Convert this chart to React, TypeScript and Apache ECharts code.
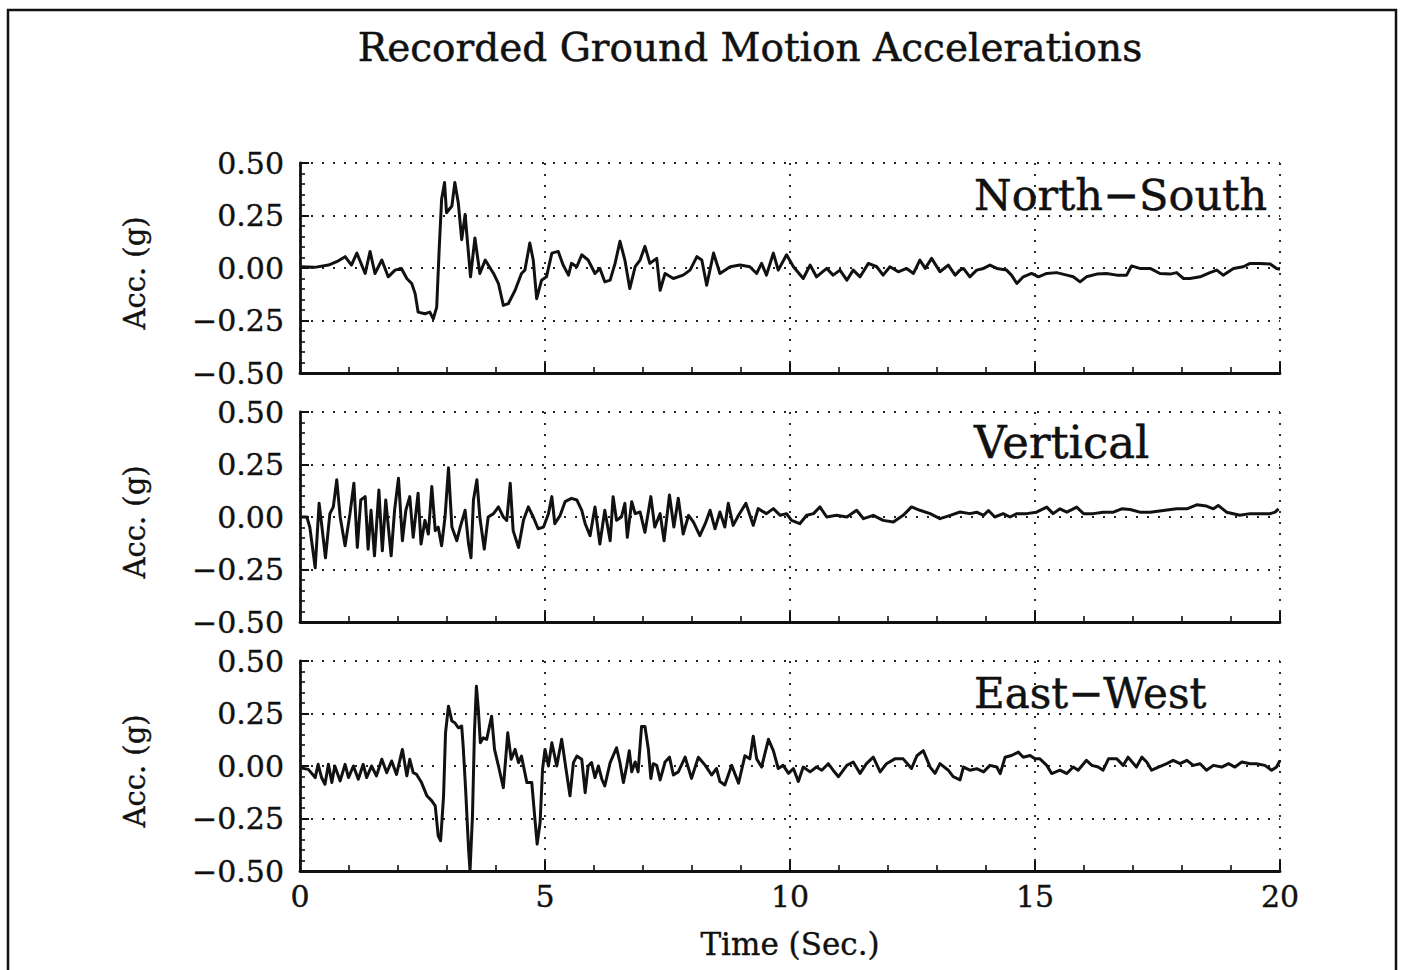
import React, { useEffect, useRef } from "react";
import * as echarts from "echarts";

const chartTitle = "Recorded Ground Motion Accelerations";
const panelNames = ["North\u2212South", "Vertical", "East\u2212West"];
const panelFontSizes = [43, 45, 42];
const yAxisTitle = "Acc. (g)";
const xAxisTitle = "Time (Sec.)";
const yTicks = [-0.5, -0.25, 0, 0.25, 0.5];
const xTicks = [0, 5, 10, 15, 20];

const northSouth: [number, number][] = [
  [0.0, 0.006], [0.3, 0.003], [0.58, 0.014], [0.75, 0.03], [0.92, 0.054], [1.05, 0.014], [1.16, 0.071], [1.33, -0.026],
  [1.43, 0.079], [1.53, -0.026], [1.67, 0.038], [1.8, -0.042], [1.94, -0.01], [2.07, -0.002], [2.18, -0.05], [2.28, -0.074],
  [2.35, -0.122], [2.41, -0.21], [2.55, -0.218], [2.65, -0.21], [2.72, -0.242], [2.79, -0.186], [2.84, 0.087], [2.89, 0.327],
  [2.95, 0.407], [2.99, 0.263], [3.1, 0.295], [3.16, 0.407], [3.23, 0.311], [3.3, 0.135], [3.37, 0.255], [3.42, 0.119],
  [3.48, -0.042], [3.57, 0.143], [3.67, -0.026], [3.78, 0.038], [3.95, -0.026], [4.05, -0.074], [4.15, -0.178], [4.25, -0.17],
  [4.39, -0.106], [4.52, -0.026], [4.59, -0.01], [4.69, 0.119], [4.76, 0.038], [4.83, -0.146], [4.93, -0.058], [5.03, -0.042],
  [5.14, 0.071], [5.27, 0.079], [5.37, 0.014], [5.48, -0.034], [5.54, 0.022], [5.65, 0.006], [5.75, 0.063], [5.88, 0.038],
  [6.02, -0.026], [6.12, -0.002], [6.22, -0.066], [6.33, -0.058], [6.43, 0.022], [6.53, 0.127], [6.63, 0.038], [6.73, -0.098],
  [6.84, 0.006], [6.94, 0.038], [7.04, 0.103], [7.14, 0.022], [7.28, 0.046], [7.35, -0.106], [7.45, -0.026], [7.62, -0.05],
  [7.82, -0.034], [7.96, -0.01], [8.1, 0.054], [8.2, 0.038], [8.3, -0.082], [8.44, 0.071], [8.57, -0.026], [8.78, 0.006],
  [8.98, 0.014], [9.18, 0.006], [9.32, -0.026], [9.42, 0.022], [9.52, -0.034], [9.66, 0.071], [9.76, -0.01], [9.93, 0.063],
  [10.07, 0.006], [10.27, -0.05], [10.41, 0.014], [10.54, -0.042], [10.75, -0.002], [10.88, -0.034], [11.02, -0.01], [11.16, -0.058],
  [11.29, -0.01], [11.43, -0.042], [11.6, 0.022], [11.77, 0.006], [11.9, -0.034], [12.04, 0.006], [12.21, -0.018], [12.38, -0.002],
  [12.52, -0.026], [12.65, 0.038], [12.76, -0.002], [12.89, 0.046], [13.06, -0.018], [13.23, 0.014], [13.37, -0.034], [13.47, -0.01],
  [13.54, -0.002], [13.67, -0.042], [13.81, -0.01], [13.95, -0.002], [14.08, 0.014], [14.22, -0.002], [14.42, -0.01], [14.52, -0.034],
  [14.63, -0.074], [14.76, -0.042], [14.93, -0.026], [15.07, -0.042], [15.24, -0.026], [15.44, -0.022], [15.65, -0.034], [15.78, -0.042],
  [15.92, -0.066], [16.05, -0.042], [16.26, -0.029], [16.46, -0.026], [16.67, -0.034], [16.87, -0.034], [16.97, 0.01], [17.14, -0.002],
  [17.35, -0.002], [17.55, -0.026], [17.76, -0.029], [17.89, -0.022], [18.03, -0.05], [18.16, -0.05], [18.37, -0.042], [18.57, -0.022],
  [18.71, -0.01], [18.84, -0.034], [19.05, -0.002], [19.25, 0.006], [19.39, 0.022], [19.59, 0.022], [19.8, 0.019], [19.93, -0.002],
  [20.0, -0.006],
];

const vertical: [number, number][] = [
  [0.0, 0], [0.14, 0], [0.2, -0.048], [0.31, -0.242], [0.39, 0.065], [0.44, -0.032], [0.52, -0.194], [0.61, 0.016],
  [0.68, 0.048], [0.75, 0.177], [0.82, 0], [0.92, -0.137], [1.02, 0.016], [1.1, 0.161], [1.17, -0.145], [1.24, 0.081],
  [1.33, 0.097], [1.39, -0.153], [1.45, 0.032], [1.52, -0.185], [1.61, 0.129], [1.68, -0.161], [1.75, 0.081], [1.86, -0.185],
  [1.93, 0.032], [2.01, 0.185], [2.09, -0.113], [2.16, 0.032], [2.24, 0.097], [2.31, -0.097], [2.41, 0.113], [2.47, -0.129],
  [2.55, -0.016], [2.62, -0.081], [2.69, 0.145], [2.76, -0.065], [2.82, -0.048], [2.89, -0.137], [2.96, 0], [3.03, 0.234],
  [3.1, -0.048], [3.2, -0.113], [3.27, -0.048], [3.37, 0.032], [3.44, -0.129], [3.49, -0.194], [3.54, 0.081], [3.61, 0.177],
  [3.67, 0], [3.76, -0.153], [3.84, 0], [3.95, 0.016], [4.05, 0.048], [4.15, 0], [4.22, -0.016], [4.29, 0.161],
  [4.35, -0.065], [4.46, -0.145], [4.56, -0.016], [4.66, 0.048], [4.76, 0], [4.86, -0.056], [4.97, -0.048], [5.07, 0.016],
  [5.14, 0.097], [5.2, -0.032], [5.31, 0.008], [5.41, 0.073], [5.54, 0.089], [5.65, 0.081], [5.75, 0.032], [5.82, -0.032],
  [5.92, -0.089], [6.02, 0.048], [6.12, -0.129], [6.22, 0.032], [6.33, -0.113], [6.39, 0.097], [6.46, -0.016], [6.56, 0],
  [6.63, 0.065], [6.68, -0.097], [6.77, 0.073], [6.84, 0.016], [6.94, 0.024], [7.04, -0.073], [7.16, 0.097], [7.24, -0.048],
  [7.35, 0.016], [7.43, -0.113], [7.54, 0.105], [7.63, -0.048], [7.72, 0.089], [7.82, -0.081], [7.93, 0.008], [8.03, -0.024],
  [8.16, -0.089], [8.27, -0.032], [8.37, 0.032], [8.47, -0.056], [8.57, 0.024], [8.67, -0.048], [8.74, 0.065], [8.84, -0.04],
  [8.95, 0.008], [9.1, 0.065], [9.25, -0.04], [9.35, 0.04], [9.52, 0.016], [9.66, 0.04], [9.8, 0.008], [9.93, 0.016],
  [10.03, -0.016], [10.2, -0.032], [10.34, 0.008], [10.48, 0.016], [10.61, 0.048], [10.75, 0], [10.95, 0.008], [11.16, 0],
  [11.36, 0.032], [11.5, -0.008], [11.7, 0.008], [11.9, -0.016], [12.11, -0.024], [12.31, 0.008], [12.48, 0.048], [12.65, 0.032],
  [12.86, 0.016], [13.06, -0.008], [13.27, 0.008], [13.47, 0.024], [13.67, 0.016], [13.81, 0.023], [13.95, 0.008], [14.05, 0.031],
  [14.18, 0], [14.35, 0.016], [14.49, 0], [14.63, 0.016], [14.83, 0.016], [15.03, 0.023], [15.24, 0.047], [15.37, 0.016],
  [15.51, 0.039], [15.65, 0.023], [15.85, 0.047], [15.99, 0.016], [16.19, 0.016], [16.39, 0.023], [16.6, 0.023], [16.77, 0.039],
  [16.94, 0.036], [17.14, 0.023], [17.35, 0.023], [17.62, 0.031], [17.89, 0.039], [18.1, 0.039], [18.3, 0.058], [18.5, 0.052],
  [18.64, 0.039], [18.74, 0.055], [18.91, 0.023], [19.18, 0.008], [19.39, 0.016], [19.59, 0.016], [19.8, 0.016], [19.9, 0.023],
  [19.97, 0.039],
];

const eastWest: [number, number][] = [
  [0.0, -0.008], [0.17, -0.016], [0.31, -0.055], [0.37, 0.008], [0.44, -0.055], [0.51, -0.087], [0.58, 0.008], [0.65, -0.079],
  [0.71, 0], [0.82, -0.071], [0.92, 0.008], [0.99, -0.055], [1.09, 0], [1.19, -0.063], [1.29, 0.008], [1.36, -0.055],
  [1.46, 0], [1.56, -0.047], [1.67, 0.032], [1.77, -0.032], [1.87, 0.024], [1.97, -0.04], [2.09, 0.079], [2.18, -0.047],
  [2.24, 0.032], [2.31, -0.032], [2.38, -0.04], [2.48, -0.079], [2.59, -0.142], [2.69, -0.166], [2.76, -0.19], [2.82, -0.332],
  [2.87, -0.356], [2.93, -0.142], [2.97, 0.158], [3.03, 0.285], [3.1, 0.214], [3.16, 0.206], [3.23, 0.182], [3.3, 0.19],
  [3.33, 0.095], [3.38, -0.111], [3.44, -0.396], [3.47, -0.498], [3.52, -0.237], [3.56, 0.158], [3.6, 0.38], [3.64, 0.269],
  [3.68, 0.111], [3.74, 0.134], [3.81, 0.127], [3.91, 0.237], [3.97, 0.079], [4.05, 0], [4.15, -0.103], [4.24, 0.158],
  [4.31, 0.032], [4.39, 0.079], [4.46, 0.016], [4.52, 0.047], [4.63, -0.079], [4.73, -0.079], [4.8, -0.269], [4.84, -0.372],
  [4.9, -0.269], [4.95, -0.016], [5.0, 0.079], [5.07, 0], [5.14, 0.111], [5.24, 0], [5.34, 0.127], [5.44, -0.032],
  [5.51, -0.142], [5.58, 0.016], [5.65, 0.047], [5.75, 0.032], [5.82, -0.127], [5.88, 0], [5.95, 0.016], [6.02, -0.055],
  [6.09, 0], [6.16, -0.063], [6.22, -0.095], [6.33, 0.016], [6.46, 0.087], [6.53, 0.016], [6.6, -0.079], [6.67, 0.003],
  [6.72, 0.073], [6.77, -0.028], [6.84, 0.019], [6.9, -0.028], [6.97, 0.188], [7.04, 0.188], [7.11, 0.08], [7.16, -0.059],
  [7.21, 0.011], [7.28, 0.003], [7.35, -0.066], [7.45, 0.019], [7.54, 0.042], [7.62, -0.043], [7.72, -0.028], [7.86, 0.042],
  [7.99, -0.059], [8.13, 0.042], [8.27, 0.003], [8.4, -0.043], [8.5, -0.012], [8.57, -0.074], [8.67, -0.09], [8.81, 0.003],
  [8.95, -0.082], [9.08, 0.049], [9.18, 0.034], [9.25, 0.142], [9.32, 0.034], [9.42, -0.005], [9.56, 0.127], [9.66, 0.073],
  [9.76, -0.012], [9.86, 0.003], [9.97, -0.035], [10.07, -0.012], [10.17, -0.074], [10.27, -0.005], [10.41, -0.028], [10.54, -0.005],
  [10.65, -0.02], [10.78, 0.011], [10.88, -0.02], [10.99, -0.051], [11.16, 0.003], [11.29, 0.019], [11.43, -0.035], [11.56, 0.011],
  [11.7, 0.042], [11.84, -0.028], [11.97, 0.011], [12.14, 0.034], [12.31, 0.034], [12.48, -0.012], [12.59, 0.049], [12.72, 0.073],
  [12.86, -0.005], [12.96, -0.035], [13.06, 0.011], [13.23, -0.02], [13.33, -0.051], [13.47, -0.066], [13.54, -0.005], [13.67, -0.02],
  [13.81, -0.013], [13.95, -0.028], [14.08, 0.003], [14.22, -0.005], [14.29, -0.036], [14.39, 0.042], [14.52, 0.05], [14.66, 0.066],
  [14.76, 0.042], [14.9, 0.05], [15.0, 0.034], [15.1, 0.034], [15.24, 0.003], [15.34, -0.036], [15.51, -0.02], [15.65, -0.036],
  [15.78, -0.005], [15.88, -0.02], [16.05, 0.027], [16.16, 0.003], [16.29, -0.005], [16.39, -0.02], [16.5, 0.034], [16.67, 0.034],
  [16.8, 0.003], [16.9, 0.042], [17.07, -0.005], [17.18, 0.042], [17.28, 0.019], [17.38, -0.02], [17.52, -0.005], [17.69, 0.011],
  [17.82, 0.027], [17.96, 0.011], [18.1, 0.027], [18.23, 0.003], [18.37, 0.011], [18.5, -0.02], [18.64, 0.003], [18.81, -0.005],
  [18.95, 0.011], [19.08, -0.005], [19.22, 0.019], [19.39, 0.011], [19.52, 0.011], [19.69, 0.003], [19.83, -0.02], [19.93, -0.005],
  [20.0, 0.027],
];

const seriesData = [northSouth, vertical, eastWest];

const FONT = '"DejaVu Serif", serif';
const INK = "#111111";

export default function App() {
  const ref = useRef<HTMLDivElement>(null);

  useEffect(() => {
    if (!ref.current) return;
    const chart = echarts.init(ref.current, undefined, { renderer: "svg" });

    const left = 300;
    const width = 980;
    const tops = [163, 412, 661];
    const height = 210;
    const dotted = { color: "#222", width: 1.9, type: [2, 9] as number[] };
    const tickText = {
      color: INK,
      fontFamily: FONT,
      fontSize: 30,
      textBorderColor: INK,
      textBorderWidth: 0.4,
    };

    const grids = tops.map((t) => ({ left, top: t, width, height, containLabel: false }));

    const xAxes = tops.map((_, i) => ({
      type: "value",
      gridIndex: i,
      min: xTicks[0],
      max: xTicks[xTicks.length - 1],
      interval: 5,
      axisLine: { show: true, onZero: false, lineStyle: { color: INK, width: 2.8 } },
      axisTick: { show: true, inside: true, length: 10, lineStyle: { color: INK, width: 2 } },
      minorTick: { show: true, splitNumber: 5, length: 6, lineStyle: { color: INK, width: 1.6 } },
      splitLine: { show: true, lineStyle: dotted },
      axisLabel: { show: i === 2, margin: 10, ...tickText },
      name: i === 2 ? xAxisTitle : "",
      nameLocation: "middle",
      nameGap: 57,
      nameTextStyle: { color: INK, fontFamily: FONT, fontSize: 31, textBorderColor: INK, textBorderWidth: 0.4 },
    }));

    const yAxes = tops.map((_, i) => ({
      type: "value",
      gridIndex: i,
      min: yTicks[0],
      max: yTicks[yTicks.length - 1],
      interval: 0.25,
      axisLine: { show: true, onZero: false, lineStyle: { color: INK, width: 2.8 } },
      axisTick: { show: true, inside: true, length: 9, lineStyle: { color: INK, width: 2 } },
      minorTick: { show: true, splitNumber: 5, length: 5, lineStyle: { color: INK, width: 1.6 } },
      splitLine: { show: true, lineStyle: dotted },
      axisLabel: {
        margin: 16,
        ...tickText,
        formatter: (v: number) => (v < 0 ? "\u2212" : "") + Math.abs(v).toFixed(2),
      },
    }));

    const series = seriesData.map((d, i) => ({
      type: "line",
      xAxisIndex: i,
      yAxisIndex: i,
      data: d,
      showSymbol: false,
      symbol: "none",
      lineStyle: { color: INK, width: 3, join: "round" },
      z: 5,
    }));

    const labelBaselines = [216, 465, 714];
    const graphic: any[] = [
      {
        type: "rect",
        shape: { x: 8, y: 10, width: 1388, height: 990 },
        style: { fill: "none", stroke: INK, lineWidth: 2.5 },
        silent: true,
      },
      {
        type: "text",
        x: 750,
        y: 47,
        style: {
          text: chartTitle,
          font: `39px ${FONT}`,
          fill: INK,
          stroke: INK,
          lineWidth: 0.5,
          align: "center",
          verticalAlign: "middle",
        },
      },
    ];
    panelNames.forEach((n, i) => {
      graphic.push({
        type: "text",
        x: 974,
        y: labelBaselines[i],
        z: 10,
        style: {
          text: n,
          font: `${panelFontSizes[i]}px ${FONT}`,
          fill: INK,
          stroke: INK,
          lineWidth: 0.5,
          align: "left",
          verticalAlign: "bottom",
        },
      });
      graphic.push({
        type: "text",
        x: 135,
        y: tops[i] + height / 2 + 5,
        rotation: Math.PI / 2,
        style: {
          text: yAxisTitle,
          font: `29px ${FONT}`,
          fill: INK,
          stroke: INK,
          lineWidth: 0.4,
          align: "center",
          verticalAlign: "middle",
        },
      });
    });

    chart.setOption({
      animation: false,
      backgroundColor: "#ffffff",
      grid: grids,
      xAxis: xAxes,
      yAxis: yAxes,
      series,
      graphic,
    } as any);

    return () => chart.dispose();
  }, []);

  return (
    <div
      ref={ref}
      style={{ position: "fixed", left: 0, top: 0, width: 1404, height: 970, background: "#fff" }}
    />
  );
}
